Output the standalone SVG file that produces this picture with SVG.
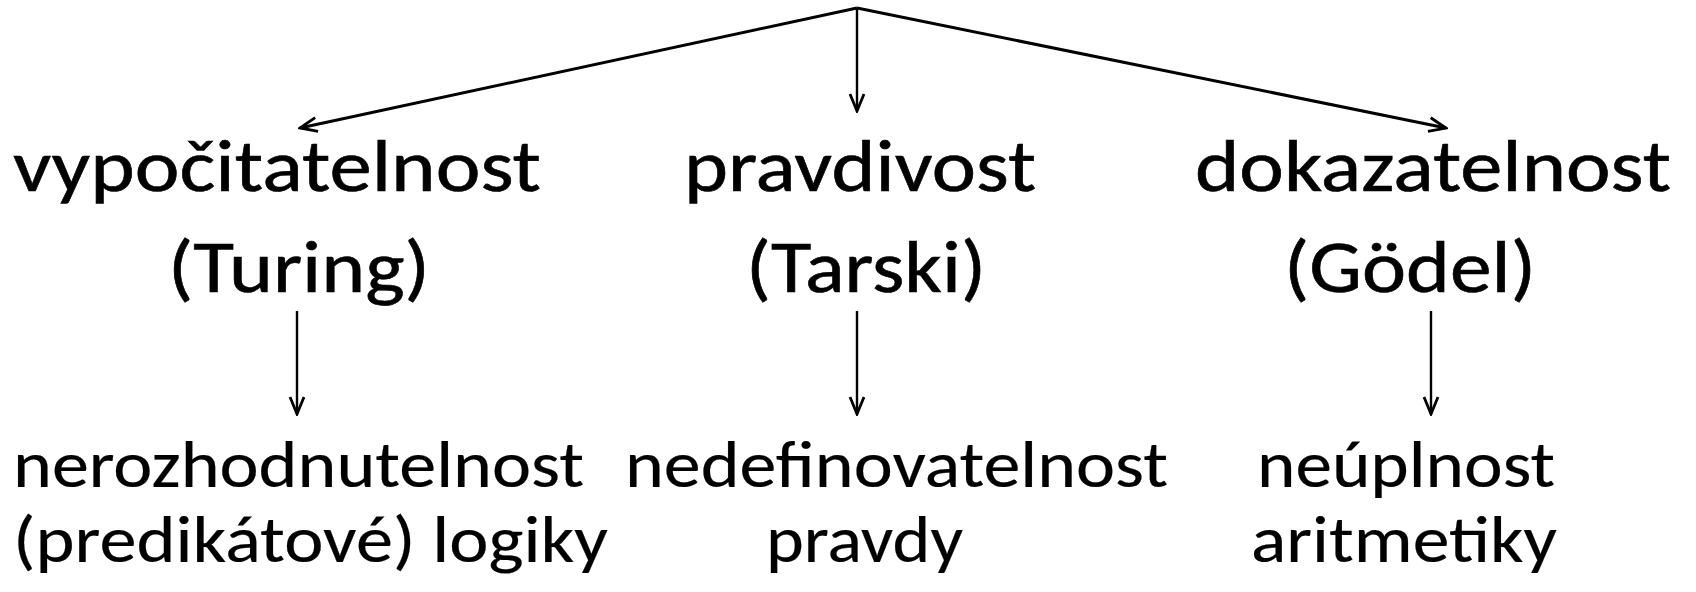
<svg xmlns="http://www.w3.org/2000/svg" width="1696" height="592" viewBox="0 0 1696 592">
  <style>
    .t1 { font-family: Carlito, Lato, "Open Sans", sans-serif; font-size: 74px; fill: #000; stroke: #000; stroke-width: 0.6px; }
    .t2 { font-family: Carlito, Lato, "Open Sans", sans-serif; font-size: 66px; fill: #000; stroke: #000; stroke-width: 0.2px; }
    .c { fill: none; stroke: #000; }
    .d { stroke-width: 3; }
    .v { stroke-width: 2.4; }
  </style>
  <defs>
    <marker id="ah" viewBox="-20 -10 22 20" refX="0" refY="0" markerWidth="22" markerHeight="20" markerUnits="userSpaceOnUse" orient="auto">
      <path d="M-17,-7 L0,0 L-17,7" fill="none" stroke="#000" stroke-width="2.8" stroke-linejoin="miter"/>
    </marker>
  </defs>
  <rect width="1696" height="592" fill="#fff"/>
  <g id="connectors">
    <line class="c d" x1="857" y1="8" x2="300" y2="128" marker-end="url(#ah)"/>
    <line class="c v" x1="857" y1="8" x2="857" y2="111" marker-end="url(#ah)"/>
    <line class="c d" x1="857" y1="8" x2="1446" y2="128" marker-end="url(#ah)"/>
    <line class="c v" x1="297" y1="311" x2="297" y2="414" marker-end="url(#ah)"/>
    <line class="c v" x1="857" y1="311" x2="857" y2="414" marker-end="url(#ah)"/>
    <line class="c v" x1="1431" y1="311" x2="1431" y2="414" marker-end="url(#ah)"/>
  </g>
  <g id="node-turing">
    <text class="t1" x="13" y="191" textLength="528" lengthAdjust="spacingAndGlyphs">vypočitatelnost</text>
    <text class="t1" x="168" y="292" textLength="262" lengthAdjust="spacingAndGlyphs">(Turing)</text>
  </g>
  <g id="node-tarski">
    <text class="t1" x="684" y="191" textLength="352" lengthAdjust="spacingAndGlyphs">pravdivost</text>
    <text class="t1" x="746" y="292" textLength="240" lengthAdjust="spacingAndGlyphs">(Tarski)</text>
  </g>
  <g id="node-godel">
    <text class="t1" x="1195" y="191" textLength="476" lengthAdjust="spacingAndGlyphs">dokazatelnost</text>
    <text class="t1" x="1284" y="292" textLength="252" lengthAdjust="spacingAndGlyphs">(Gödel)</text>
  </g>
  <g id="node-nerozhodnutelnost">
    <text class="t2" x="13" y="487" textLength="571" lengthAdjust="spacingAndGlyphs">nerozhodnutelnost</text>
    <text class="t2" x="13" y="562" textLength="595" lengthAdjust="spacingAndGlyphs">(predikátové) logiky</text>
  </g>
  <g id="node-nedefinovatelnost">
    <text class="t2" x="625" y="487" textLength="543" lengthAdjust="spacingAndGlyphs">nedefinovatelnost</text>
    <text class="t2" x="766" y="562" textLength="197" lengthAdjust="spacingAndGlyphs">pravdy</text>
  </g>
  <g id="node-neuplnost">
    <text class="t2" x="1257" y="487" textLength="298" lengthAdjust="spacingAndGlyphs">neúplnost</text>
    <text class="t2" x="1251" y="562" textLength="306" lengthAdjust="spacingAndGlyphs">aritmetiky</text>
  </g>
</svg>
